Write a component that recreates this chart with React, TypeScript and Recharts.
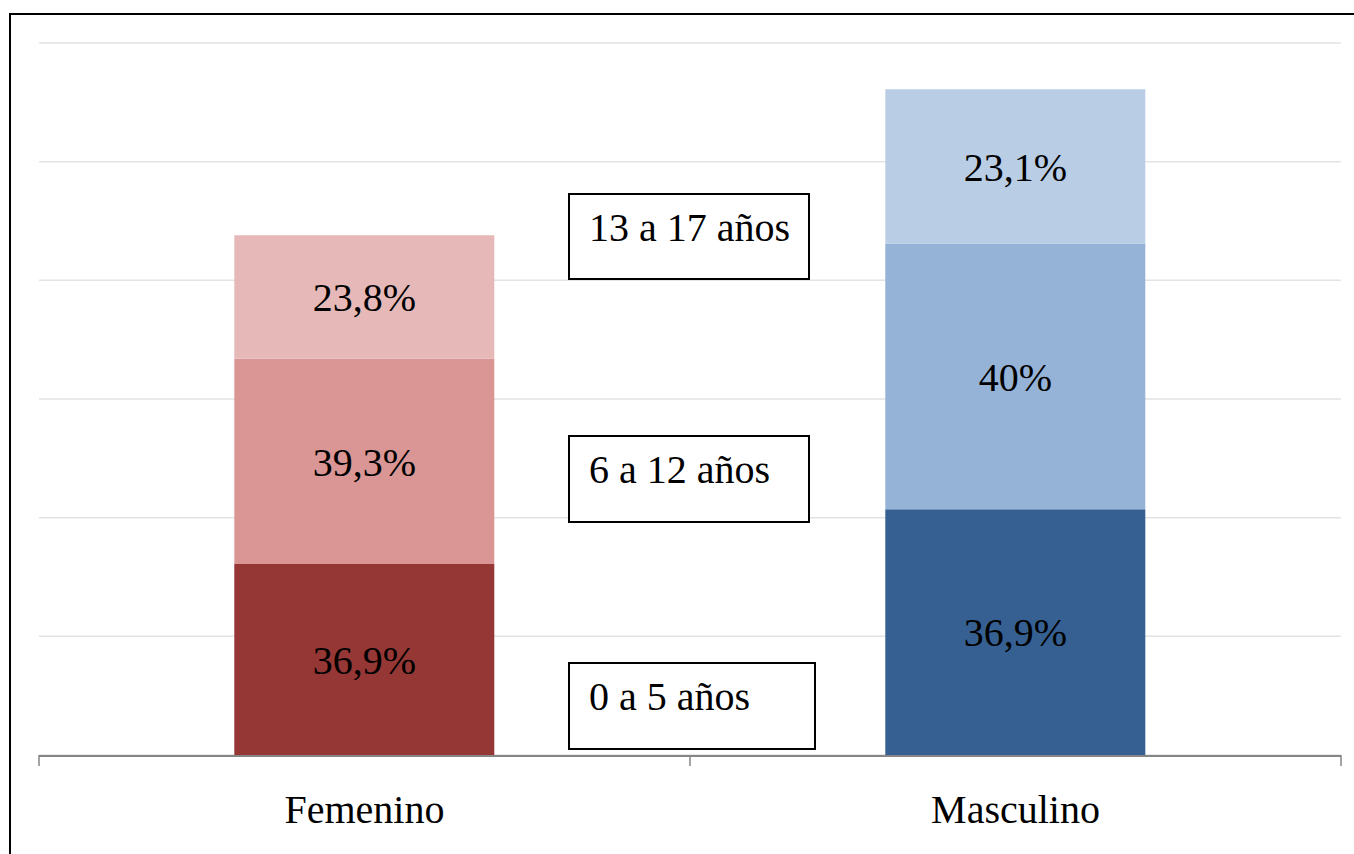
import React from 'react';
import { BarChart, Bar, XAxis, YAxis, CartesianGrid, Cell, LabelList } from 'recharts';

// categories and values (arbitrary units, 100 per gridline)
const categories = ['Femenino', 'Masculino'];
const age0to5 = [161, 207];
const age6to12 = [173, 224];
const age13to17 = [104, 130];

// percent labels shown inside each segment
const pct0to5 = ['36,9%', '36,9%'];
const pct6to12 = ['39,3%', '40%'];
const pct13to17 = ['23,8%', '23,1%'];

const seriesNames = ['0 a 5 años', '6 a 12 años', '13 a 17 años'];
const yTicks = [0, 100, 200, 300, 400, 500, 600];
const edgeTicks = [0, 1, 2];

const FONT = '"Liberation Serif", "Times New Roman", serif';

const colors0to5 = ['#953735', '#366092'];
const colors6to12 = ['#D99694', '#95B3D7'];
const colors13to17 = ['#E6B9B8', '#B9CDE5'];

// legend box placement (layout only)
const legendBoxes = [
  { name: seriesNames[2], x: 569, y: 194, w: 240, h: 85 },
  { name: seriesNames[1], x: 569, y: 436, w: 240, h: 86 },
  { name: seriesNames[0], x: 569, y: 663, w: 246, h: 86 },
];

const data = categories.map((sexo, i) => ({
  sexo,
  edge: i + 0.5,
  a0_5: age0to5[i],
  a6_12: age6to12[i],
  a13_17: age13to17[i],
  l0_5: pct0to5[i],
  l6_12: pct6to12[i],
  l13_17: pct13to17[i],
}));

const CategoryTick = ({ x, y, payload }: any) => (
  <text x={x} y={y + 67} textAnchor="middle" fontSize={40} fontFamily={FONT} fill="#000">
    {payload.value}
  </text>
);

const EmptyTick = () => <g />;

const labelStyle = { fontSize: 40, fontFamily: FONT, fill: '#000' };

export default function App() {
  return (
    <div
      style={{
        position: 'absolute',
        left: 0,
        top: 0,
        width: 1354,
        height: 854,
        overflow: 'hidden',
        background: '#fff',
      }}
    >
      {/* outer frame, cut off at right and bottom */}
      <div
        style={{
          position: 'absolute',
          left: 9,
          top: 13,
          width: 1400,
          height: 900,
          border: '2px solid #000',
          boxSizing: 'border-box',
        }}
      />
      <div style={{ position: 'absolute', left: 0, top: 0 }}>
        <BarChart
          width={1354}
          height={854}
          data={data}
          margin={{ top: 43, right: 13, left: 39, bottom: 38 }}
          barCategoryGap="30%"
        >
          <CartesianGrid vertical={false} stroke="#E3E3E3" strokeWidth={1.5} />
          <YAxis hide domain={[0, 600]} ticks={yTicks} />
          {/* tick marks at category edges */}
          <XAxis
            xAxisId={0}
            type="number"
            dataKey="edge"
            domain={[0, 2]}
            ticks={edgeTicks}
            interval={0}
            height={1}
            axisLine={false}
            tick={<EmptyTick />}
            tickSize={11}
            tickLine={{ stroke: '#868686', strokeWidth: 1.5 }}
          />
          <XAxis
            xAxisId="cat"
            dataKey="sexo"
            height={60}
            axisLine={{ stroke: '#868686', strokeWidth: 2 }}
            tickLine={false}
            tickSize={0}
            tickMargin={0}
            tick={<CategoryTick />}
          />
          <Bar dataKey="a0_5" name={seriesNames[0]} stackId="s" xAxisId="cat" isAnimationActive={false}>
            {data.map((_, i) => (
              <Cell key={`c0-${i}`} fill={colors0to5[i]} />
            ))}
            <LabelList dataKey="l0_5" position="center" style={labelStyle} />
          </Bar>
          <Bar dataKey="a6_12" name={seriesNames[1]} stackId="s" xAxisId="cat" isAnimationActive={false}>
            {data.map((_, i) => (
              <Cell key={`c1-${i}`} fill={colors6to12[i]} />
            ))}
            <LabelList dataKey="l6_12" position="center" style={labelStyle} />
          </Bar>
          <Bar dataKey="a13_17" name={seriesNames[2]} stackId="s" xAxisId="cat" isAnimationActive={false}>
            {data.map((_, i) => (
              <Cell key={`c2-${i}`} fill={colors13to17[i]} />
            ))}
            <LabelList dataKey="l13_17" position="center" style={labelStyle} />
          </Bar>
        </BarChart>
      </div>
      {/* boxed series names between the bars */}
      <svg
        width={1354}
        height={854}
        style={{ position: 'absolute', left: 0, top: 0, pointerEvents: 'none' }}
      >
        {legendBoxes.map((b) => (
          <g key={b.name}>
            <rect x={b.x} y={b.y} width={b.w} height={b.h} fill="#fff" stroke="#000" strokeWidth={2} />
            <text x={b.x + 20} y={b.y + 47} fontSize={40} fontFamily={FONT} fill="#000">
              {b.name}
            </text>
          </g>
        ))}
      </svg>
    </div>
  );
}
